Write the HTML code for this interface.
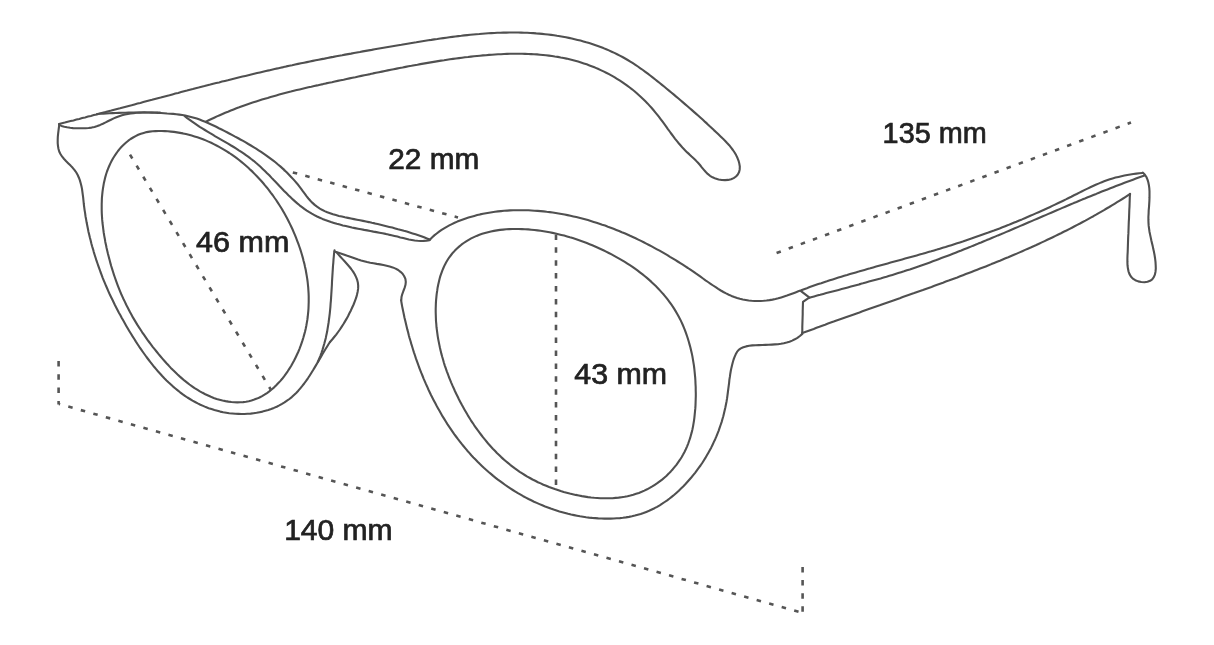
<!DOCTYPE html>
<html><head><meta charset="utf-8"><style>
html,body{margin:0;padding:0;background:#fff;width:1214px;height:645px;overflow:hidden}
svg{display:block;filter:blur(0.45px)}
</style></head><body>
<svg width="1214" height="645" viewBox="0 0 1214 645">
<rect width="1214" height="645" fill="#fff"/>
<g fill="none" stroke="#505050" stroke-width="2.1" stroke-linecap="round" stroke-linejoin="round">
<path d="M59.0,124.0 L61.9,123.3 L64.8,122.6 L67.7,121.8 L70.6,121.1 L73.5,120.4 L76.4,119.6 L79.3,118.9 L82.2,118.1 L85.1,117.4 L88.0,116.6 L90.9,115.9 L93.8,115.1 L96.8,114.4 L99.7,113.6 L102.6,112.8 L105.5,112.1 L108.4,111.3 L111.3,110.6 L114.2,109.8 L117.1,109.0 L120.0,108.3 L122.9,107.5 L125.8,106.7 L128.7,105.9 L131.6,105.2 L134.5,104.4 L137.5,103.6 L140.4,102.9 L143.3,102.1 L146.2,101.3 L149.1,100.5 L152.0,99.8 L154.9,99.0 L157.8,98.2 L160.7,97.5 L163.7,96.7 L166.6,95.9 L169.5,95.2 L172.4,94.4 L175.3,93.6 L178.2,92.9 L181.1,92.1 L184.1,91.3 L187.0,90.6 L189.9,89.8 L192.8,89.1 L195.7,88.3 L198.6,87.6 L201.6,86.8 L204.5,86.1 L207.4,85.3 L210.3,84.6 L213.2,83.8 L216.2,83.1 L219.1,82.4 L222.0,81.6 L224.9,80.9 L227.8,80.2 L230.8,79.4 L233.7,78.7 L236.6,78.0 L239.5,77.3 L242.5,76.6 L245.4,75.9 L248.3,75.2 L251.2,74.5 L254.2,73.8 L257.1,73.1 L260.0,72.4 L262.9,71.7 L265.9,71.0 L268.8,70.4 L271.7,69.7 L274.6,69.0 L277.6,68.4 L280.5,67.7 L283.4,67.1 L286.4,66.4 L289.3,65.8 L292.2,65.2 L295.2,64.5 L298.1,63.9 L301.0,63.3 L304.0,62.7 L306.9,62.1 L309.8,61.5 L312.8,60.9 L315.7,60.3 L318.6,59.7 L321.6,59.1 L324.5,58.6 L327.5,58.0 L330.4,57.4 L333.3,56.9 L336.3,56.3 L339.2,55.7 L342.2,55.2 L345.1,54.6 L348.1,54.1 L351.0,53.6 L354.0,53.0 L356.9,52.5 L359.9,52.0 L362.8,51.4 L365.8,50.9 L368.7,50.4 L371.7,49.9 L374.7,49.3 L377.6,48.8 L380.6,48.3 L383.6,47.8 L386.5,47.3 L389.5,46.8 L392.5,46.3 L395.4,45.8 L398.4,45.3 L401.4,44.8 L404.4,44.2 L407.4,43.7 L410.3,43.2 L413.3,42.7 L416.3,42.3 L419.3,41.8 L422.3,41.3 L425.3,40.8 L428.3,40.3 L431.3,39.9 L434.3,39.4 L437.3,39.0 L440.3,38.5 L443.3,38.1 L446.3,37.7 L449.3,37.3 L452.3,36.9 L455.3,36.5 L458.3,36.1 L461.3,35.8 L464.3,35.4 L467.3,35.1 L470.3,34.8 L473.3,34.5 L476.3,34.2 L479.3,34.0 L482.3,33.7 L485.3,33.5 L488.3,33.3 L491.3,33.1 L494.3,33.0 L497.3,32.8 L500.3,32.7 L503.3,32.6 L506.3,32.6 L509.3,32.5 L512.3,32.5 L515.3,32.5 L518.2,32.5 L521.2,32.6 L524.2,32.7 L527.2,32.8 L530.2,33.0 L533.2,33.1 L536.2,33.4 L539.2,33.6 L542.1,33.9 L545.1,34.2 L548.1,34.5 L551.1,34.9 L554.0,35.3 L557.0,35.8 L560.0,36.2 L562.9,36.7 L565.9,37.3 L568.8,37.9 L571.8,38.5 L574.7,39.2 L577.6,39.9 L580.5,40.6 L583.4,41.4 L586.3,42.3 L589.2,43.1 L592.1,44.0 L594.9,45.0 L597.8,46.0 L600.6,47.0 L603.4,48.1 L606.2,49.3 L608.9,50.4 L611.7,51.7 L614.4,52.9 L617.1,54.2 L619.8,55.6 L622.5,57.0 L625.1,58.5 L627.7,60.0 L630.3,61.6 L632.9,63.2 L635.4,64.8 L637.9,66.5 L640.4,68.3 L642.9,70.0 L645.3,71.8 L647.8,73.7 L650.2,75.5 L652.6,77.4 L655.0,79.3 L657.3,81.1 L659.7,83.0 L662.0,84.9 L664.4,86.8 L666.7,88.7 L669.0,90.6 L671.3,92.5 L673.6,94.4 L675.9,96.4 L678.2,98.3 L680.5,100.2 L682.7,102.1 L685.0,104.1 L687.2,106.0 L689.5,108.0 L691.7,109.9 L693.9,111.9 L696.2,113.9 L698.4,115.8 L700.6,117.8 L702.9,119.8 L705.1,121.9 L707.3,123.9 L709.5,126.0 L711.7,128.0 L713.9,130.1 L716.2,132.2 L718.4,134.3 L720.6,136.4 L722.8,138.6 L725.0,140.7 L727.1,143.0 L729.2,145.2 L731.1,147.6 L732.9,150.0 L734.6,152.5 L736.1,155.1 L737.4,157.8 L738.5,160.6 L739.3,163.6 L739.8,166.5 L739.7,169.4 L739.1,172.1 L737.8,174.5 L736.0,176.5 L733.7,178.1 L731.1,179.2 L728.1,179.9 L725.0,180.1 L721.8,180.0 L718.6,179.5 L715.5,178.6 L712.6,177.3 L710.0,175.8 L707.7,173.9 L705.6,171.8 L703.7,169.6 L701.8,167.3 L700.0,165.0 L698.0,162.8 L695.9,160.6 L693.8,158.5 L691.6,156.5 L689.4,154.4 L687.2,152.4 L685.0,150.2 L682.9,148.1 L680.9,145.8 L678.9,143.5 L677.0,141.2 L675.1,138.8 L673.3,136.4 L671.5,134.0 L669.7,131.5 L667.9,129.1 L666.2,126.6 L664.4,124.2 L662.6,121.7 L660.8,119.3 L659.0,116.9 L657.2,114.6 L655.3,112.3 L653.4,110.0 L651.5,107.8 L649.5,105.6 L647.5,103.4 L645.4,101.3 L643.3,99.2 L641.2,97.2 L639.0,95.2 L636.8,93.2 L634.5,91.2 L632.1,89.3 L629.7,87.5 L627.2,85.7 L624.7,83.9 L622.2,82.1 L619.6,80.4 L617.0,78.8 L614.4,77.2 L611.7,75.7 L609.0,74.2 L606.2,72.7 L603.5,71.4 L600.7,70.1 L597.9,68.8 L595.1,67.6 L592.3,66.5 L589.5,65.4 L586.7,64.3 L583.8,63.4 L581.0,62.5 L578.1,61.6 L575.2,60.8 L572.3,60.0 L569.4,59.3 L566.5,58.6 L563.6,58.0 L560.7,57.5 L557.8,56.9 L554.8,56.5 L551.9,56.0 L548.9,55.6 L545.9,55.3 L543.0,55.0 L540.0,54.7 L537.0,54.4 L534.0,54.2 L531.1,54.1 L528.1,54.0 L525.1,53.9 L522.1,53.8 L519.1,53.8 L516.1,53.8 L513.1,53.8 L510.0,53.8 L507.0,53.9 L504.0,54.0 L501.0,54.2 L498.0,54.3 L495.0,54.5 L492.0,54.7 L489.0,54.9 L486.0,55.2 L483.0,55.4 L480.0,55.7 L477.0,56.0 L474.0,56.3 L471.0,56.6 L468.0,57.0 L465.0,57.3 L462.0,57.7 L459.0,58.1 L456.0,58.5 L453.0,58.9 L450.0,59.3 L447.1,59.7 L444.1,60.2 L441.1,60.6 L438.1,61.1 L435.2,61.6 L432.2,62.1 L429.2,62.6 L426.3,63.1 L423.3,63.6 L420.3,64.1 L417.4,64.7 L414.4,65.2 L411.5,65.8 L408.5,66.3 L405.6,66.9 L402.6,67.5 L399.6,68.0 L396.7,68.6 L393.7,69.2 L390.8,69.8 L387.8,70.4 L384.9,71.0 L381.9,71.6 L379.0,72.2 L376.0,72.8 L373.1,73.4 L370.1,74.1 L367.2,74.7 L364.3,75.3 L361.3,75.9 L358.4,76.5 L355.4,77.2 L352.5,77.8 L349.5,78.4 L346.6,79.0 L343.6,79.7 L340.7,80.3 L337.7,80.9 L334.8,81.5 L331.9,82.2 L328.9,82.8 L326.0,83.4 L323.0,84.1 L320.1,84.7 L317.2,85.4 L314.2,86.0 L311.3,86.7 L308.4,87.3 L305.4,88.0 L302.5,88.7 L299.6,89.4 L296.7,90.1 L293.8,90.8 L290.8,91.6 L287.9,92.3 L285.0,93.0 L282.1,93.8 L279.2,94.6 L276.3,95.4 L273.5,96.2 L270.6,97.0 L267.7,97.9 L264.8,98.7 L262.0,99.6 L259.1,100.5 L256.2,101.4 L253.4,102.3 L250.5,103.3 L247.7,104.2 L244.9,105.2 L242.0,106.2 L239.2,107.3 L236.4,108.3 L233.6,109.4 L230.8,110.5 L228.0,111.7 L225.2,112.8 L222.5,114.0 L219.7,115.2 L216.9,116.4 L214.2,117.7 L211.4,119.0 L208.7,120.3 L206.0,121.7"/>
<path d="M59.0,124.9 L61.5,125.9 L64.3,126.7 L67.1,127.3 L70.1,127.8 L73.1,128.1 L76.2,128.2 L79.4,128.3 L82.5,128.3 L85.6,128.2 L88.6,128.0 L91.6,127.6 L94.5,126.9 L97.4,126.0 L100.2,124.9 L102.9,123.7 L105.6,122.4 L108.3,121.0 L111.0,119.7 L113.7,118.4 L116.4,117.2 L119.2,116.2 L122.0,115.3 L124.9,114.6 L127.8,113.9 L130.7,113.4 L133.7,113.1 L136.6,112.8 L139.6,112.6 L142.7,112.5 L145.7,112.5 L148.7,112.5 L151.8,112.6 L154.9,112.7 L157.9,112.9 L161.0,113.0 L164.1,113.2 L167.1,113.5 L170.2,113.7 L173.2,113.9 L176.3,114.2 L179.3,114.6 L182.3,115.0 L185.2,115.5 L188.1,116.2 L191.0,116.9 L193.9,117.7 L196.8,118.6 L199.6,119.6 L202.4,120.7 L205.2,121.8 L208.0,123.0 L210.7,124.2 L213.5,125.5 L216.2,126.8 L218.9,128.2 L221.6,129.5 L224.3,130.9 L227.0,132.3 L229.7,133.7 L232.4,135.1 L235.1,136.6 L237.8,138.0 L240.4,139.5 L243.1,140.9 L245.7,142.4 L248.3,144.0 L250.9,145.5 L253.5,147.1 L256.1,148.7 L258.6,150.3 L261.1,151.9 L263.6,153.6 L266.1,155.3 L268.5,157.1 L270.9,158.9 L273.3,160.7 L275.7,162.5 L278.0,164.5 L280.3,166.4 L282.5,168.4 L284.7,170.4 L286.9,172.5 L289.0,174.7 L291.1,176.9 L293.2,179.1 L295.2,181.4 L297.2,183.7 L299.1,186.2 L301.0,188.6 L302.8,191.1 L304.7,193.6 L306.5,196.1 L308.4,198.5 L310.4,200.8 L312.5,202.9 L314.7,204.9 L317.0,206.7 L319.5,208.3 L322.0,209.8 L324.6,211.1 L327.3,212.3 L330.1,213.3 L333.0,214.3 L335.9,215.1 L338.9,215.9 L341.9,216.6 L344.9,217.3 L347.9,217.9 L351.0,218.5 L354.0,219.1 L357.0,219.7 L360.0,220.3 L363.0,220.9 L366.0,221.5 L368.9,222.1 L371.9,222.8 L374.8,223.4 L377.7,224.1 L380.6,224.8 L383.5,225.5 L386.4,226.2 L389.3,226.9 L392.3,227.6 L395.2,228.4 L398.1,229.2 L401.0,229.9 L403.9,230.8 L406.8,231.6 L409.7,232.5 L412.6,233.4 L415.5,234.3 L418.4,235.2 L421.3,236.2 L424.1,237.3 L426.9,238.4 L429.7,239.5"/>
<path d="M97.0,114.0 L100.1,113.8 L103.3,113.6 L106.4,113.4 L109.6,113.3 L112.7,113.1 L115.9,113.0 L119.0,112.9 L122.2,112.8 L125.3,112.7 L128.5,112.6 L131.6,112.6 L134.8,112.5 L137.9,112.5 L141.1,112.5 L144.2,112.4 L147.4,112.5 L150.5,112.5 L153.7,112.5 L156.8,112.5 L160.0,112.6"/>
<path d="M184.8,116.2 L187.2,118.1 L189.7,119.9 L192.2,121.7 L194.7,123.4 L197.2,125.1 L199.7,126.8 L202.3,128.4 L204.9,130.0 L207.5,131.6 L210.1,133.2 L212.7,134.7 L215.3,136.3 L218.0,137.8 L220.6,139.3 L223.2,140.8 L225.9,142.4 L228.5,143.9 L231.1,145.5 L233.7,147.0 L236.3,148.6 L238.8,150.3 L241.3,151.9 L243.9,153.6 L246.3,155.4 L248.8,157.1 L251.2,159.0 L253.6,160.8 L255.9,162.8 L258.2,164.7 L260.5,166.8 L262.7,168.9 L264.9,171.0 L267.1,173.2 L269.3,175.3 L271.4,177.6 L273.5,179.8 L275.7,182.0 L277.8,184.2 L279.9,186.5 L282.0,188.7 L284.1,190.9 L286.3,193.1 L288.4,195.2 L290.6,197.3 L292.8,199.4 L295.0,201.4 L297.3,203.4 L299.6,205.3 L302.0,207.1 L304.3,208.9 L306.8,210.6 L309.3,212.2 L311.8,213.7 L314.4,215.1 L317.1,216.5 L319.8,217.7 L322.5,218.9 L325.3,220.0 L328.1,221.0 L331.0,222.0 L333.9,222.9 L336.8,223.8 L339.8,224.6 L342.8,225.4 L345.8,226.1 L348.8,226.8 L351.9,227.5 L354.9,228.1 L358.0,228.7 L361.1,229.3 L364.2,229.9 L367.2,230.4 L370.3,231.0 L373.4,231.6 L376.4,232.1 L379.5,232.7 L382.5,233.3 L385.6,233.9 L388.6,234.6 L391.5,235.2 L394.5,235.9 L397.4,236.6 L400.3,237.4 L403.2,238.1 L406.0,238.8 L408.9,239.5 L411.8,240.0 L414.7,240.5 L417.6,240.8 L420.5,241.0 L423.5,240.9 L426.5,240.7 L429.5,240.1"/>
<path d="M429.8,239.7 L432.0,237.5 L434.3,235.4 L436.7,233.5 L439.1,231.7 L441.6,229.9 L444.1,228.3 L446.7,226.8 L449.3,225.4 L451.9,224.1 L454.6,222.8 L457.3,221.6 L460.1,220.5 L462.9,219.5 L465.7,218.5 L468.5,217.6 L471.4,216.7 L474.3,215.9 L477.2,215.1 L480.1,214.4 L483.0,213.8 L486.0,213.2 L489.0,212.7 L492.0,212.2 L495.0,211.8 L498.0,211.4 L501.0,211.1 L504.0,210.8 L507.1,210.6 L510.1,210.4 L513.2,210.3 L516.2,210.2 L519.3,210.2 L522.3,210.2 L525.4,210.2 L528.5,210.3 L531.5,210.5 L534.6,210.7 L537.6,210.9 L540.6,211.1 L543.6,211.4 L546.7,211.8 L549.7,212.1 L552.7,212.5 L555.7,213.0 L558.6,213.5 L561.6,214.0 L564.6,214.5 L567.5,215.1 L570.5,215.7 L573.4,216.4 L576.3,217.1 L579.2,217.8 L582.1,218.5 L585.0,219.3 L587.9,220.1 L590.8,221.0 L593.7,221.9 L596.5,222.8 L599.4,223.7 L602.2,224.7 L605.1,225.6 L607.9,226.7 L610.7,227.7 L613.5,228.8 L616.3,229.9 L619.1,231.0 L621.8,232.2 L624.6,233.3 L627.4,234.5 L630.1,235.8 L632.8,237.0 L635.6,238.3 L638.3,239.6 L641.0,240.9 L643.7,242.3 L646.3,243.6 L649.0,245.0 L651.7,246.4 L654.3,247.8 L657.0,249.3 L659.6,250.7 L662.2,252.2 L664.8,253.7 L667.4,255.2 L670.0,256.8 L672.6,258.3 L675.2,259.9 L677.7,261.5 L680.3,263.1 L682.8,264.7 L685.4,266.4 L687.9,268.0 L690.4,269.7 L693.0,271.4 L695.5,273.2 L698.0,274.9 L700.5,276.7 L703.0,278.5 L705.5,280.3 L708.0,282.0 L710.6,283.8 L713.1,285.5 L715.7,287.2 L718.2,288.9 L720.8,290.5 L723.4,292.0 L726.1,293.4 L728.8,294.7 L731.5,295.9 L734.3,297.0 L737.1,298.0 L739.9,298.8 L742.8,299.5 L745.7,300.0 L748.7,300.5 L751.6,300.8 L754.6,301.0 L757.6,301.0 L760.6,301.0 L763.6,300.8 L766.5,300.5 L769.5,300.1 L772.5,299.6 L775.4,299.0 L778.3,298.3 L781.2,297.4 L784.1,296.5 L787.0,295.6 L789.8,294.6 L792.7,293.5 L795.5,292.4 L798.3,291.3 L801.2,290.3 L804.0,289.2 L806.9,288.2 L809.7,287.1 L812.6,286.1 L815.4,285.1 L818.3,284.1 L821.2,283.2 L824.0,282.2 L826.9,281.3 L829.8,280.3 L832.7,279.4 L835.6,278.5 L838.4,277.6 L841.3,276.7 L844.2,275.8 L847.1,275.0 L850.0,274.1 L852.9,273.2 L855.8,272.4 L858.7,271.6 L861.6,270.7 L864.5,269.9 L867.4,269.1 L870.3,268.3 L873.2,267.4 L876.1,266.6 L879.0,265.8 L881.9,265.0 L884.8,264.2 L887.7,263.4 L890.6,262.6 L893.5,261.8 L896.4,261.0 L899.3,260.2 L902.2,259.4 L905.1,258.6 L908.0,257.8 L910.9,257.0 L913.8,256.2 L916.7,255.4 L919.6,254.6 L922.5,253.8 L925.4,252.9 L928.3,252.1 L931.2,251.3 L934.1,250.4 L937.0,249.6 L939.9,248.7 L942.7,247.8 L945.6,247.0 L948.5,246.1 L951.4,245.2 L954.2,244.3 L957.1,243.3 L959.9,242.4 L962.8,241.5 L965.7,240.5 L968.5,239.6 L971.4,238.6 L974.2,237.6 L977.0,236.6 L979.9,235.6 L982.7,234.6 L985.5,233.6 L988.4,232.6 L991.2,231.5 L994.0,230.5 L996.8,229.4 L999.6,228.4 L1002.4,227.3 L1005.2,226.2 L1008.1,225.1 L1010.8,224.0 L1013.6,222.8 L1016.4,221.7 L1019.2,220.5 L1022.0,219.4 L1024.8,218.2 L1027.5,217.0 L1030.3,215.8 L1033.1,214.6 L1035.8,213.4 L1038.6,212.2 L1041.3,211.0 L1044.1,209.7 L1046.8,208.5 L1049.6,207.2 L1052.3,205.9 L1055.0,204.6 L1057.8,203.3 L1060.5,202.0 L1063.2,200.7 L1065.9,199.4 L1068.6,198.0 L1071.3,196.7 L1074.0,195.3 L1076.7,194.0 L1079.4,192.6 L1082.1,191.2 L1084.8,189.9 L1087.5,188.6 L1090.3,187.3 L1093.0,186.0 L1095.7,184.8 L1098.5,183.6 L1101.3,182.4 L1104.1,181.3 L1106.9,180.3 L1109.8,179.3 L1112.6,178.4 L1115.5,177.6 L1118.5,176.9 L1121.4,176.2 L1124.4,175.5 L1127.3,175.0 L1130.3,174.5 L1133.3,174.0 L1136.3,173.6 L1139.3,173.3 L1142.3,173.0"/>
<path d="M860.0,283.9 L862.9,283.2 L865.9,282.4 L868.9,281.6 L871.8,280.8 L874.8,280.0 L877.7,279.2 L880.6,278.4 L883.6,277.5 L886.5,276.7 L889.4,275.8 L892.4,274.9 L895.3,274.0 L898.2,273.1 L901.1,272.2 L904.0,271.3 L906.9,270.3 L909.8,269.4 L912.7,268.4 L915.6,267.4 L918.4,266.4 L921.3,265.4 L924.2,264.4 L927.1,263.4 L929.9,262.4 L932.8,261.3 L935.7,260.3 L938.5,259.2 L941.4,258.1 L944.2,257.1 L947.1,256.0 L949.9,254.9 L952.8,253.8 L955.6,252.7 L958.4,251.6 L961.3,250.5 L964.1,249.3 L966.9,248.2 L969.8,247.1 L972.6,245.9 L975.4,244.8 L978.2,243.6 L981.1,242.5 L983.9,241.3 L986.7,240.1 L989.5,239.0 L992.3,237.8 L995.1,236.6 L997.9,235.4 L1000.8,234.3 L1003.6,233.1 L1006.4,231.9 L1009.2,230.7 L1012.0,229.5 L1014.8,228.3 L1017.6,227.1 L1020.4,225.9 L1023.2,224.7 L1026.0,223.5 L1028.8,222.3 L1031.6,221.1 L1034.4,219.9 L1037.2,218.7 L1040.0,217.5 L1042.8,216.3 L1045.6,215.1 L1048.4,213.9 L1051.2,212.7 L1054.0,211.5 L1056.8,210.3 L1059.6,209.1 L1062.4,207.9 L1065.2,206.7 L1068.0,205.5 L1070.9,204.3 L1073.7,203.1 L1076.5,202.0 L1079.3,200.8 L1082.1,199.6 L1084.9,198.5 L1087.7,197.3 L1090.5,196.2 L1093.4,195.0 L1096.2,193.9 L1099.0,192.7 L1101.8,191.6 L1104.6,190.5 L1107.5,189.4 L1110.3,188.3 L1113.1,187.2 L1116.0,186.1 L1118.8,185.0 L1121.6,183.9 L1124.5,182.8 L1127.3,181.8 L1130.2,180.7 L1133.0,179.7 L1135.9,178.6 L1138.7,177.6 L1141.6,176.6 L1144.5,175.6"/>
<path d="M802.3,333.1 L805.1,332.1 L808.0,331.0 L810.8,329.9 L813.7,328.9 L816.5,327.8 L819.4,326.8 L822.2,325.7 L825.1,324.7 L828.0,323.6 L830.8,322.6 L833.7,321.6 L836.5,320.5 L839.4,319.5 L842.3,318.5 L845.1,317.5 L848.0,316.4 L850.9,315.4 L853.8,314.4 L856.6,313.4 L859.5,312.4 L862.4,311.3 L865.3,310.3 L868.1,309.3 L871.0,308.3 L873.9,307.3 L876.8,306.3 L879.7,305.3 L882.5,304.2 L885.4,303.2 L888.3,302.2 L891.2,301.2 L894.1,300.2 L896.9,299.2 L899.8,298.2 L902.7,297.1 L905.6,296.1 L908.5,295.1 L911.3,294.1 L914.2,293.1 L917.1,292.0 L920.0,291.0 L922.9,290.0 L925.7,288.9 L928.6,287.9 L931.5,286.9 L934.4,285.8 L937.2,284.8 L940.1,283.7 L943.0,282.7 L945.8,281.6 L948.7,280.6 L951.6,279.5 L954.4,278.4 L957.3,277.4 L960.1,276.3 L963.0,275.2 L965.8,274.1 L968.7,273.0 L971.5,271.9 L974.4,270.8 L977.2,269.7 L980.1,268.6 L982.9,267.5 L985.8,266.4 L988.6,265.3 L991.4,264.1 L994.2,263.0 L997.1,261.8 L999.9,260.7 L1002.7,259.5 L1005.5,258.3 L1008.3,257.2 L1011.1,256.0 L1014.0,254.8 L1016.8,253.6 L1019.6,252.4 L1022.3,251.2 L1025.1,249.9 L1027.9,248.7 L1030.7,247.5 L1033.5,246.2 L1036.3,245.0 L1039.0,243.7 L1041.8,242.4 L1044.6,241.1 L1047.3,239.8 L1050.1,238.5 L1052.8,237.2 L1055.5,235.9 L1058.3,234.5 L1061.0,233.2 L1063.7,231.8 L1066.5,230.5 L1069.2,229.1 L1071.9,227.7 L1074.6,226.3 L1077.3,224.9 L1080.0,223.5 L1082.7,222.0 L1085.4,220.6 L1088.1,219.1 L1090.7,217.6 L1093.4,216.2 L1096.1,214.7 L1098.7,213.1 L1101.4,211.6 L1104.0,210.1 L1106.6,208.5 L1109.3,207.0 L1111.9,205.4 L1114.5,203.8 L1117.1,202.2 L1119.7,200.6 L1122.3,199.0 L1124.9,197.3 L1127.5,195.6 L1130.1,194.0"/>
<path d="M860.1,284.2 L857.0,285.0 L854.0,285.8 L850.9,286.6 L847.8,287.5 L844.8,288.3 L841.7,289.1 L838.6,289.9 L835.6,290.7 L832.5,291.5 L829.4,292.3 L826.3,293.1 L823.3,293.9 L820.2,294.8 L817.1,295.6 L814.1,296.4 L811.0,297.2 L808.1,298.3 L805.5,300.1 L803.0,301.8 L802.9,305.0 L802.8,308.1 L802.7,311.3 L802.7,314.4 L802.6,317.5 L802.5,320.7 L802.4,323.8 L802.3,327.0 L802.3,330.1 L802.2,333.2"/>
<path d="M801.0,291.2 L809.2,297.4"/>
<path d="M1142.9,172.6 L1144.9,174.7 L1146.4,177.0 L1147.5,179.6 L1148.3,182.3 L1148.9,185.2 L1149.3,188.1 L1149.5,191.1 L1149.5,194.3 L1149.5,197.4 L1149.4,200.6 L1149.2,203.9 L1149.0,207.1 L1148.7,210.3 L1148.6,213.6 L1148.4,216.7 L1148.4,219.9 L1148.5,222.9 L1148.7,225.9 L1149.1,228.8 L1149.5,231.7 L1150.1,234.6 L1150.7,237.4 L1151.3,240.3 L1152.0,243.2 L1152.7,246.1 L1153.3,249.1 L1154.0,252.1 L1154.6,255.3 L1155.1,258.5 L1155.5,261.9 L1155.7,265.3 L1155.8,268.6 L1155.5,271.7 L1154.9,274.6 L1153.8,277.2 L1152.2,279.3 L1150.1,280.8 L1147.5,281.8 L1144.5,282.2 L1141.3,282.0 L1138.2,281.4 L1135.3,280.2 L1132.8,278.6 L1130.9,276.5 L1129.5,274.1 L1128.5,271.3 L1127.9,268.3 L1127.5,265.2 L1127.4,261.9 L1127.4,258.5 L1127.5,255.2 L1127.7,251.9 L1127.8,248.7 L1127.9,245.5 L1128.0,242.4 L1128.1,239.4 L1128.2,236.4 L1128.4,233.4 L1128.5,230.4 L1128.6,227.4 L1128.7,224.5 L1128.8,221.6 L1129.0,218.6 L1129.1,215.6 L1129.2,212.7 L1129.3,209.7 L1129.5,206.6 L1129.6,203.5 L1129.7,200.4 L1129.8,197.2 L1130.0,193.9"/>
<path d="M802.3,333.9 L799.9,336.0 L797.4,337.8 L794.8,339.3 L792.2,340.6 L789.5,341.7 L786.7,342.5 L783.8,343.2 L780.9,343.8 L778.0,344.2 L774.9,344.4 L771.8,344.6 L768.7,344.8 L765.5,344.9 L762.3,345.0 L759.0,345.1 L755.6,345.2 L752.3,345.4 L749.2,345.8 L746.1,346.4 L743.3,347.2 L740.8,348.4 L738.7,349.9 L737.0,351.9 L735.7,354.3 L734.6,356.9 L733.6,359.5 L732.8,362.2 L732.1,365.0 L731.4,367.9 L730.8,370.8 L730.3,373.7 L729.9,376.7 L729.4,379.7 L729.1,382.8 L728.7,385.8 L728.3,388.9 L727.9,392.0 L727.5,395.1 L727.1,398.2 L726.6,401.2 L726.0,404.3 L725.4,407.3 L724.7,410.3 L724.0,413.3 L723.3,416.3 L722.4,419.2 L721.6,422.1 L720.6,425.0 L719.6,427.9 L718.6,430.8 L717.5,433.6 L716.4,436.4 L715.2,439.2 L713.9,441.9 L712.6,444.7 L711.3,447.4 L709.9,450.0 L708.4,452.7 L706.9,455.3 L705.4,457.9 L703.8,460.5 L702.2,463.0 L700.5,465.5 L698.7,467.9 L696.9,470.4 L695.1,472.8 L693.2,475.2 L691.3,477.5 L689.3,479.8 L687.3,482.0 L685.3,484.3 L683.2,486.5 L681.0,488.6 L678.8,490.7 L676.6,492.7 L674.3,494.7 L672.0,496.6 L669.6,498.5 L667.2,500.3 L664.7,502.0 L662.2,503.7 L659.7,505.3 L657.1,506.8 L654.5,508.2 L651.8,509.5 L649.1,510.8 L646.3,511.9 L643.5,513.0 L640.7,514.0 L637.8,514.8 L634.9,515.6 L631.9,516.3 L629.0,516.9 L625.9,517.4 L622.9,517.8 L619.9,518.1 L616.8,518.3 L613.7,518.5 L610.6,518.6 L607.5,518.6 L604.4,518.6 L601.4,518.5 L598.3,518.4 L595.2,518.1 L592.2,517.9 L589.1,517.6 L586.1,517.2 L583.0,516.7 L580.0,516.3 L577.0,515.7 L574.1,515.1 L571.1,514.5 L568.1,513.8 L565.2,513.0 L562.3,512.2 L559.4,511.4 L556.5,510.5 L553.6,509.6 L550.7,508.6 L547.9,507.5 L545.1,506.5 L542.3,505.3 L539.5,504.1 L536.7,502.9 L534.0,501.7 L531.2,500.3 L528.5,499.0 L525.9,497.6 L523.2,496.2 L520.6,494.7 L517.9,493.2 L515.4,491.6 L512.8,490.0 L510.3,488.4 L507.7,486.7 L505.3,485.0 L502.8,483.2 L500.4,481.4 L497.9,479.6 L495.6,477.8 L493.2,475.9 L490.9,473.9 L488.6,472.0 L486.3,470.0 L484.1,468.0 L481.9,465.9 L479.7,463.8 L477.6,461.7 L475.5,459.5 L473.4,457.4 L471.3,455.2 L469.3,452.9 L467.3,450.7 L465.4,448.4 L463.4,446.0 L461.5,443.7 L459.7,441.3 L457.8,438.9 L456.0,436.5 L454.2,434.1 L452.5,431.6 L450.8,429.1 L449.1,426.6 L447.4,424.1 L445.8,421.5 L444.2,418.9 L442.6,416.4 L441.1,413.7 L439.6,411.1 L438.1,408.5 L436.6,405.8 L435.2,403.1 L433.8,400.4 L432.4,397.7 L431.0,395.0 L429.7,392.2 L428.4,389.5 L427.2,386.7 L425.9,383.9 L424.7,381.1 L423.5,378.3 L422.4,375.5 L421.2,372.7 L420.1,369.8 L419.0,367.0 L418.0,364.1 L417.0,361.3 L415.9,358.4 L415.0,355.5 L414.0,352.6 L413.1,349.7 L412.2,346.8 L411.3,343.9 L410.5,341.0 L409.6,338.1 L408.8,335.2 L408.1,332.3 L407.3,329.4 L406.6,326.5 L405.9,323.5 L405.2,320.6 L404.5,317.7 L403.9,314.8 L403.3,311.9 L402.7,309.0 L402.1,306.1 L401.6,303.2 L401.1,300.3"/>
<path d="M401.3,299.9 L401.5,297.1 L402.3,294.1 L403.4,291.0 L404.6,287.9 L405.5,284.8 L405.8,281.8 L405.4,278.9 L404.2,276.3 L402.6,273.8 L400.5,271.8 L398.2,270.0 L395.6,268.6 L392.7,267.4 L389.7,266.5 L386.6,265.7 L383.4,265.0 L380.1,264.4 L376.8,263.9 L373.5,263.3 L370.2,262.7 L367.1,262.0 L364.0,261.2 L361.1,260.4 L358.1,259.5 L355.2,258.5 L352.4,257.5 L349.5,256.5 L346.6,255.5 L343.7,254.4 L340.7,253.4 L337.7,252.4 L334.6,251.5"/>
<path d="M436.1,299.9 L436.4,296.8 L436.7,293.8 L437.2,290.7 L437.6,287.7 L438.2,284.7 L438.9,281.7 L439.6,278.8 L440.4,275.9 L441.4,273.1 L442.4,270.3 L443.6,267.5 L444.8,264.9 L446.2,262.3 L447.7,259.8 L449.3,257.3 L451.1,255.0 L452.9,252.7 L454.9,250.6 L457.0,248.5 L459.1,246.6 L461.4,244.7 L463.7,243.0 L466.2,241.3 L468.7,239.8 L471.2,238.4 L473.9,237.1 L476.6,235.9 L479.4,234.8 L482.2,233.8 L485.0,233.0 L488.0,232.2 L490.9,231.5 L493.9,230.9 L496.9,230.4 L500.0,229.9 L503.1,229.6 L506.2,229.3 L509.3,229.1 L512.4,229.0 L515.6,229.0 L518.7,229.0 L521.9,229.1 L525.0,229.2 L528.2,229.4 L531.3,229.7 L534.4,230.0 L537.5,230.4 L540.6,230.8 L543.6,231.2 L546.6,231.7 L549.6,232.3 L552.6,232.9 L555.5,233.5 L558.4,234.2 L561.3,234.9 L564.2,235.6 L567.1,236.4 L569.9,237.3 L572.7,238.1 L575.6,239.0 L578.4,240.0 L581.2,241.0 L584.0,242.0 L586.8,243.1 L589.6,244.2 L592.3,245.3 L595.1,246.5 L597.9,247.7 L600.6,249.0 L603.4,250.3 L606.1,251.6 L608.8,253.0 L611.6,254.4 L614.2,255.8 L616.9,257.3 L619.6,258.8 L622.2,260.3 L624.8,261.9 L627.4,263.6 L629.9,265.2 L632.5,266.9 L635.0,268.7 L637.4,270.4 L639.9,272.3 L642.3,274.1 L644.6,276.0 L646.9,277.9 L649.2,279.9 L651.4,281.9 L653.6,284.0 L655.8,286.1 L657.9,288.2 L659.9,290.4 L661.9,292.6 L663.9,294.8 L665.8,297.1 L667.6,299.4 L669.4,301.8 L671.1,304.2 L672.8,306.6 L674.4,309.1 L675.9,311.6 L677.4,314.2 L678.8,316.8 L680.2,319.4 L681.5,322.1 L682.7,324.8 L683.9,327.6 L685.0,330.3 L686.0,333.1 L687.0,336.0 L687.9,338.8 L688.8,341.7 L689.6,344.6 L690.4,347.5 L691.1,350.5 L691.8,353.4 L692.4,356.4 L692.9,359.4 L693.4,362.4 L693.9,365.4 L694.3,368.5 L694.6,371.5 L694.9,374.6 L695.2,377.6 L695.4,380.7 L695.5,383.8 L695.7,386.9 L695.7,390.0 L695.8,393.1 L695.8,396.1 L695.7,399.2 L695.6,402.3 L695.5,405.4 L695.3,408.4 L695.0,411.5 L694.7,414.6 L694.4,417.6 L694.0,420.6 L693.5,423.6 L693.0,426.6 L692.4,429.5 L691.7,432.4 L690.9,435.3 L690.1,438.2 L689.1,441.0 L688.1,443.8 L687.0,446.6 L685.8,449.3 L684.5,452.0 L683.1,454.6 L681.6,457.2 L680.0,459.7 L678.3,462.1 L676.6,464.6 L674.7,466.9 L672.8,469.2 L670.8,471.4 L668.7,473.6 L666.6,475.7 L664.3,477.7 L662.1,479.6 L659.7,481.4 L657.3,483.2 L654.8,484.8 L652.3,486.4 L649.7,487.9 L647.1,489.3 L644.4,490.6 L641.7,491.8 L638.9,492.9 L636.1,493.8 L633.3,494.7 L630.4,495.5 L627.5,496.2 L624.6,496.8 L621.6,497.2 L618.6,497.6 L615.6,497.9 L612.6,498.2 L609.6,498.3 L606.5,498.3 L603.5,498.3 L600.4,498.2 L597.3,498.0 L594.2,497.8 L591.1,497.5 L588.0,497.1 L585.0,496.6 L581.9,496.1 L578.8,495.5 L575.8,494.9 L572.7,494.2 L569.7,493.5 L566.7,492.7 L563.7,491.9 L560.7,491.0 L557.8,490.0 L554.8,489.1 L551.9,488.0 L549.1,487.0 L546.2,485.8 L543.4,484.7 L540.7,483.4 L537.9,482.2 L535.2,480.8 L532.5,479.5 L529.9,478.0 L527.3,476.6 L524.7,475.0 L522.2,473.4 L519.7,471.8 L517.3,470.1 L514.9,468.4 L512.5,466.6 L510.2,464.8 L507.9,462.9 L505.6,461.0 L503.4,459.1 L501.2,457.1 L499.1,455.0 L496.9,453.0 L494.9,450.8 L492.8,448.7 L490.8,446.5 L488.8,444.3 L486.9,442.0 L485.0,439.7 L483.1,437.4 L481.3,435.0 L479.5,432.6 L477.7,430.2 L476.0,427.8 L474.2,425.3 L472.6,422.8 L470.9,420.3 L469.3,417.7 L467.7,415.1 L466.2,412.5 L464.7,409.9 L463.2,407.3 L461.7,404.6 L460.3,401.9 L458.9,399.2 L457.6,396.5 L456.2,393.7 L454.9,391.0 L453.7,388.2 L452.4,385.4 L451.2,382.6 L450.1,379.8 L448.9,377.0 L447.9,374.2 L446.8,371.3 L445.8,368.4 L444.8,365.6 L443.9,362.7 L443.1,359.8 L442.2,356.8 L441.4,353.9 L440.7,351.0 L440.0,348.0 L439.4,345.1 L438.8,342.1 L438.2,339.1 L437.7,336.1 L437.3,333.2 L436.9,330.2 L436.5,327.2 L436.3,324.1 L436.0,321.1 L435.9,318.1 L435.8,315.1 L435.7,312.0 L435.7,309.0 L435.8,306.0 L435.9,302.9 L436.1,299.9Z"/>
<path d="M334.5,250.3 L334.1,253.4 L333.8,256.5 L333.5,259.7 L333.3,262.8 L333.0,265.9 L332.8,269.1 L332.6,272.2 L332.4,275.4 L332.2,278.5 L332.0,281.7 L331.9,284.8 L331.7,288.0 L331.5,291.1 L331.3,294.3 L331.1,297.4 L330.9,300.6 L330.6,303.7 L330.4,306.9 L330.1,310.0 L329.8,313.1 L329.4,316.3 L329.0,319.4 L328.6,322.5 L328.1,325.6 L327.6,328.7 L327.1,331.8 L326.4,334.9 L325.8,337.9 L325.0,341.0 L324.2,344.0 L323.3,347.0 L322.4,350.1 L321.4,353.1 L320.3,356.1 L319.1,359.0 L317.8,362.0"/>
<path d="M59.3,124.4 L58.9,127.5 L58.5,130.7 L58.1,133.9 L57.8,137.0 L57.7,140.1 L57.7,143.2 L58.0,146.1 L58.5,149.0 L59.3,151.7 L60.6,154.2 L62.2,156.7 L64.1,159.0 L66.2,161.2 L68.4,163.4 L70.6,165.6 L72.7,167.8 L74.6,170.1 L76.3,172.5 L77.7,175.0 L78.9,177.7 L79.9,180.4 L80.7,183.2 L81.4,186.0 L82.0,188.9 L82.4,191.9 L82.8,194.9 L83.2,197.9 L83.5,201.0 L83.8,204.0 L84.2,207.1 L84.6,210.1 L85.1,213.2 L85.5,216.2 L86.1,219.3 L86.6,222.3 L87.2,225.3 L87.8,228.3 L88.4,231.4 L89.1,234.3 L89.8,237.3 L90.6,240.3 L91.3,243.3 L92.1,246.2 L93.0,249.1 L93.8,252.1 L94.7,255.0 L95.6,257.8 L96.5,260.7 L97.5,263.5 L98.5,266.4 L99.5,269.2 L100.5,272.0 L101.6,274.8 L102.6,277.6 L103.7,280.3 L104.9,283.1 L106.0,285.8 L107.2,288.5 L108.4,291.3 L109.6,294.0 L110.9,296.7 L112.2,299.3 L113.5,302.0 L114.8,304.7 L116.2,307.4 L117.5,310.0 L118.9,312.7 L120.4,315.3 L121.8,318.0 L123.3,320.6 L124.8,323.3 L126.3,325.9 L127.8,328.5 L129.4,331.2 L131.0,333.8 L132.6,336.4 L134.3,339.0 L135.9,341.6 L137.6,344.2 L139.3,346.8 L141.1,349.4 L142.9,352.0 L144.7,354.5 L146.5,357.0 L148.4,359.5 L150.2,361.9 L152.2,364.4 L154.1,366.8 L156.1,369.1 L158.1,371.5 L160.2,373.7 L162.2,376.0 L164.3,378.2 L166.5,380.4 L168.7,382.5 L170.9,384.5 L173.1,386.6 L175.4,388.5 L177.7,390.4 L180.1,392.3 L182.5,394.1 L184.9,395.8 L187.4,397.5 L189.9,399.0 L192.5,400.6 L195.1,402.0 L197.7,403.4 L200.4,404.7 L203.1,405.9 L205.8,407.1 L208.6,408.2 L211.5,409.1 L214.4,410.0 L217.3,410.8 L220.2,411.6 L223.2,412.2 L226.2,412.7 L229.2,413.2 L232.3,413.5 L235.3,413.8 L238.4,413.9 L241.4,414.0 L244.5,414.0 L247.5,413.8 L250.6,413.6 L253.6,413.2 L256.6,412.8 L259.6,412.2 L262.5,411.6 L265.4,410.8 L268.3,410.0 L271.1,409.0 L273.9,407.9 L276.7,406.7 L279.3,405.4 L282.0,403.9 L284.5,402.4 L287.0,400.7 L289.4,399.0 L291.8,397.1 L294.0,395.0 L296.2,392.9 L298.3,390.7 L300.3,388.3 L302.3,385.9 L304.2,383.5 L306.1,380.9 L307.9,378.3 L309.6,375.7 L311.3,373.0 L313.0,370.3 L314.6,367.6 L316.2,364.9 L317.8,362.2 L319.4,359.5 L320.9,356.9 L322.4,354.2 L323.9,351.7 L325.4,349.2 L327.0,346.7 L328.5,344.3 L330.0,342.0"/>
<path d="M330.0,342.0 L332.2,339.5 L334.2,337.0 L336.2,334.6 L338.1,332.0 L339.9,329.5 L341.6,326.9 L343.3,324.3 L344.9,321.6 L346.5,318.9 L348.0,316.2 L349.4,313.3 L350.9,310.4 L352.2,307.5 L353.6,304.5 L354.8,301.4 L356.0,298.2 L356.9,295.1 L357.6,292.0 L358.1,288.9 L358.2,285.8 L357.9,282.8 L357.2,279.9 L356.1,277.1 L354.7,274.3 L353.1,271.6 L351.2,269.0 L349.2,266.5 L347.0,264.0 L344.8,261.5 L342.6,259.1 L340.4,256.7 L338.3,254.4 L336.4,252.1"/>
<path d="M164.9,131.1 L167.9,131.3 L171.0,131.6 L174.0,131.9 L177.0,132.4 L180.0,132.9 L182.9,133.4 L185.9,134.1 L188.8,134.8 L191.7,135.6 L194.5,136.4 L197.4,137.3 L200.2,138.3 L203.0,139.3 L205.7,140.4 L208.5,141.6 L211.2,142.8 L213.8,144.1 L216.5,145.5 L219.1,146.9 L221.7,148.3 L224.3,149.8 L226.8,151.4 L229.3,153.0 L231.8,154.7 L234.3,156.4 L236.7,158.2 L239.1,160.0 L241.4,161.9 L243.7,163.8 L246.0,165.8 L248.3,167.8 L250.5,169.9 L252.7,171.9 L254.8,174.1 L256.9,176.3 L259.0,178.5 L261.1,180.7 L263.1,183.0 L265.0,185.4 L267.0,187.7 L268.9,190.1 L270.7,192.6 L272.6,195.0 L274.3,197.5 L276.1,200.0 L277.8,202.6 L279.5,205.2 L281.1,207.8 L282.7,210.4 L284.2,213.1 L285.7,215.8 L287.2,218.5 L288.6,221.2 L289.9,223.9 L291.3,226.7 L292.6,229.5 L293.8,232.3 L295.0,235.1 L296.1,237.9 L297.2,240.8 L298.3,243.6 L299.3,246.5 L300.3,249.4 L301.2,252.3 L302.1,255.2 L302.9,258.1 L303.6,261.0 L304.4,263.9 L305.0,266.8 L305.7,269.8 L306.2,272.7 L306.7,275.6 L307.2,278.6 L307.6,281.5 L307.9,284.5 L308.2,287.4 L308.4,290.4 L308.6,293.4 L308.7,296.3 L308.7,299.3 L308.7,302.2 L308.6,305.2 L308.5,308.2 L308.3,311.1 L308.0,314.1 L307.7,317.0 L307.3,320.0 L306.8,322.9 L306.3,325.8 L305.7,328.8 L305.0,331.7 L304.2,334.6 L303.4,337.5 L302.5,340.4 L301.5,343.3 L300.5,346.2 L299.4,349.1 L298.2,352.0 L296.9,354.8 L295.5,357.7 L294.1,360.5 L292.6,363.2 L291.1,366.0 L289.4,368.6 L287.7,371.3 L285.9,373.8 L284.1,376.3 L282.2,378.8 L280.2,381.1 L278.1,383.3 L276.0,385.5 L273.9,387.6 L271.6,389.5 L269.3,391.4 L267.0,393.1 L264.5,394.7 L262.1,396.1 L259.5,397.5 L256.9,398.6 L254.3,399.6 L251.5,400.5 L248.8,401.2 L246.0,401.7 L243.1,402.1 L240.2,402.3 L237.3,402.4 L234.3,402.3 L231.4,402.0 L228.4,401.6 L225.5,401.1 L222.5,400.5 L219.5,399.7 L216.6,398.9 L213.7,397.9 L210.9,396.8 L208.1,395.5 L205.3,394.2 L202.6,392.8 L199.9,391.3 L197.2,389.7 L194.6,388.1 L192.1,386.3 L189.5,384.5 L187.1,382.6 L184.6,380.7 L182.2,378.6 L179.9,376.6 L177.6,374.5 L175.3,372.3 L173.0,370.1 L170.8,367.9 L168.7,365.6 L166.5,363.3 L164.5,361.0 L162.4,358.6 L160.4,356.3 L158.4,353.9 L156.5,351.5 L154.6,349.2 L152.7,346.8 L150.9,344.4 L149.1,342.0 L147.3,339.6 L145.6,337.2 L143.9,334.7 L142.2,332.3 L140.6,329.8 L139.0,327.4 L137.4,324.9 L135.9,322.4 L134.4,319.9 L132.9,317.4 L131.5,314.8 L130.1,312.3 L128.8,309.7 L127.4,307.1 L126.1,304.5 L124.9,301.9 L123.6,299.3 L122.4,296.6 L121.2,294.0 L120.1,291.3 L119.0,288.6 L117.9,285.8 L116.9,283.1 L115.9,280.3 L114.9,277.5 L113.9,274.6 L113.0,271.8 L112.1,268.9 L111.2,266.0 L110.4,263.1 L109.6,260.1 L108.8,257.1 L108.0,254.1 L107.3,251.1 L106.6,248.0 L106.0,245.0 L105.3,241.9 L104.8,238.7 L104.2,235.6 L103.7,232.5 L103.3,229.3 L102.9,226.2 L102.5,223.0 L102.2,219.9 L102.0,216.7 L101.8,213.6 L101.7,210.4 L101.7,207.3 L101.7,204.2 L101.8,201.1 L101.9,198.0 L102.2,194.9 L102.5,191.9 L102.9,188.9 L103.4,185.9 L103.9,182.9 L104.6,180.0 L105.3,177.1 L106.1,174.3 L107.0,171.5 L108.1,168.7 L109.2,166.0 L110.4,163.4 L111.7,160.8 L113.1,158.2 L114.7,155.7 L116.3,153.3 L118.0,151.0 L119.9,148.7 L121.8,146.5 L123.9,144.5 L126.1,142.5 L128.3,140.7 L130.6,139.0 L133.1,137.5 L135.6,136.1 L138.2,134.8 L140.9,133.7 L143.7,132.9 L146.6,132.1 L149.6,131.6 L152.6,131.3 L155.6,131.1 L158.7,131.0 L161.8,131.0 L164.9,131.1Z"/>
</g>
<g fill="none" stroke="#555" stroke-width="2.6">
<path d="M284.0,170.0 L458.0,217.5" stroke-dasharray="4.5 8.4" stroke-dashoffset="3.75"/>
<path d="M774.0,254.0 L1131.0,122.5" stroke-dasharray="4.5 8.4" stroke-dashoffset="10.15"/>
<path d="M130.0,154.6 L271.0,390.0" stroke-dasharray="4.5 8.4" stroke-dashoffset="0.00"/>
<path d="M556.0,234.4 L556.0,487.0" stroke-dasharray="5.5 7.4" stroke-dashoffset="0.00"/>
<path d="M58.6,361.0 L58.6,404.5" stroke-dasharray="5.5 7.800000000000001" stroke-dashoffset="0.00"/>
<path d="M59.0,404.0 L803.0,613.0" stroke-dasharray="4.5 8.5" stroke-dashoffset="3.35"/>
<path d="M802.6,567.0 L802.6,613.0" stroke-dasharray="5.5 7.6" stroke-dashoffset="0.00"/>
</g>
<g font-family="Liberation Sans, sans-serif" font-size="29" fill="#222" stroke="#222" stroke-width="0.7">
<text transform="translate(388.27,168.70) scale(1.0267,1)">22 mm</text>
<text transform="translate(882.61,142.50) scale(0.9941,1)">135 mm</text>
<text transform="translate(196.10,252.40) scale(1.0517,1)">46 mm</text>
<text transform="translate(574.30,384.30) scale(1.0460,1)">43 mm</text>
<text transform="translate(284.13,539.60) scale(1.0356,1)">140 mm</text>
</g></svg>
</body></html>
